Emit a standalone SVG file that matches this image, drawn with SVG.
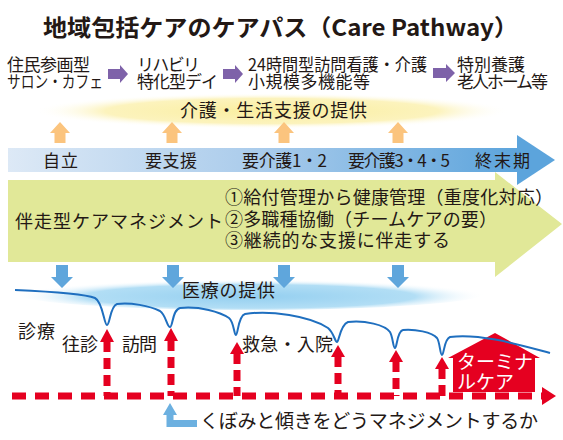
<svg xmlns="http://www.w3.org/2000/svg" width="563" height="440" viewBox="0 0 563 440">
<defs>
<style>
text{font-family:"Noto Sans CJK JP","Noto Sans",sans-serif;fill:#231815}
.t17{font-size:17px}
.t18{font-size:18px}
.t19{font-size:19px}
.title{font-size:23px;font-weight:bold}
.purple{fill:#7e62a9}
.orange{fill:#fbc47e}
.bdown{fill:#5fa6dc}
.red{fill:#e50020}
.rdash{fill:none;stroke:#e50020;stroke-width:7}
</style>
<linearGradient id="bandGrad" x1="0" y1="0" x2="1" y2="0">
<stop offset="0" stop-color="#dde9f6"/>
<stop offset="0.5" stop-color="#a9cbeb"/>
<stop offset="1" stop-color="#5ca4dc"/>
</linearGradient>
<radialGradient id="yelGrad" cx="0.5" cy="0.5" r="0.5">
<stop offset="0" stop-color="#faee9f"/>
<stop offset="0.7" stop-color="#fcf3bd"/>
<stop offset="1" stop-color="#ffffff" stop-opacity="0"/>
</radialGradient>
<radialGradient id="bluGrad" cx="0.5" cy="0.6" r="0.5">
<stop offset="0" stop-color="#94cff0"/>
<stop offset="0.7" stop-color="#b2def5"/>
<stop offset="1" stop-color="#ffffff" stop-opacity="0"/>
</radialGradient>
</defs>
<rect width="563" height="440" fill="#ffffff"/>

<g id="title">
<text class="title" x="43" y="36" textLength="475" lengthAdjust="spacingAndGlyphs">地域包括ケアのケアパス（Care Pathway）</text>
</g>

<g id="step1">
<text class="t17"><tspan x="7" y="71" textLength="83">住民参画型</tspan><tspan x="7" y="88" textLength="96" lengthAdjust="spacingAndGlyphs">サロン・カフェ</tspan></text>
</g>
<g id="step2">
<text class="t17"><tspan x="137" y="71" textLength="63">リハビリ</tspan><tspan x="137" y="88" textLength="81">特化型デイ</tspan></text>
</g>
<g id="step3">
<text class="t17"><tspan x="248" y="71" textLength="179" lengthAdjust="spacingAndGlyphs">24時間型訪問看護・介護</tspan><tspan x="248" y="88" textLength="122">小規模多機能等</tspan></text>
</g>
<g id="step4">
<text class="t17"><tspan x="457" y="71" textLength="68">特別養護</tspan><tspan x="457" y="88" textLength="91">老人ホーム等</tspan></text>
</g>

<g id="care-support">
<ellipse cx="272" cy="111" rx="238" ry="18" fill="url(#yelGrad)"/>
<text class="t18" x="180" y="117" textLength="187">介護・生活支援の提供</text>
</g>

<g id="green-arrow">
<path d="M8,180 H495 V172 L562,224 L495,277 V262 H8 Z" fill="#e1e898"/>
<text class="t18" x="15" y="228" textLength="208">伴走型ケアマネジメント</text>
<text class="t18"><tspan x="225" y="204" textLength="328">①給付管理から健康管理（重度化対応）</tspan><tspan x="225" y="226" textLength="272">②多職種協働（チームケアの要）</tspan><tspan x="225" y="247" textLength="225">③継続的な支援に伴走する</tspan></text>
</g>

<g id="stage-band">
<rect x="8" y="148" width="510" height="24" fill="url(#bandGrad)"/>
<path d="M517,135 L555,160 L517,185 Z" fill="#5ca4dc"/>
<text class="t17" x="43" y="167" textLength="35">自立</text>
<text class="t17" x="145" y="167" textLength="52">要支援</text>
<text class="t17" x="242" y="167" textLength="85">要介護1・2</text>
<text class="t17" x="348" y="167" textLength="102">要介護3・4・5</text>
<text class="t17" x="475" y="167" textLength="55">終末期</text>
</g>

<g id="medical">
<ellipse cx="250" cy="293" rx="236" ry="17" fill="url(#bluGrad)"/>
<text class="t18" x="182" y="297" textLength="93">医療の提供</text>
</g>

<g id="terminal-care">
<path d="M495,333 L540,358 H535 V392 H453 V358 H448 Z" class="red"/>
<text class="t19" style="fill:#ffffff"><tspan x="457" y="369" textLength="76">ターミナ</tspan><tspan x="457" y="389" textLength="57">ルケア</tspan></text>
</g>

<g id="labels">
<text class="t18" x="18" y="338" textLength="37">診療</text>
<text class="t18" x="62" y="351" textLength="36">往診</text>
<text class="t18" x="122" y="351" textLength="35">訪問</text>
<text class="t18" x="242" y="351" textLength="91">救急・入院</text>
<text class="t19" x="200" y="428" textLength="338">くぼみと傾きをどうマネジメントするか</text>
</g>

<g id="connectors">
<path class="purple" d="M108,69 H120 V65 L128,74 L120,83 V79 H108 Z"/>
<path class="purple" d="M223,69 H235 V65 L243,74 L235,83 V79 H223 Z"/>
<path class="purple" d="M433,68 H446 V64 L455,73 L446,82 V78 H433 Z"/>
<path class="orange" d="M60,122 L70,133 H65.5 V143 H54.5 V133 H50 Z"/>
<path class="orange" d="M172,122 L182,133 H177.5 V143 H166.5 V133 H162 Z"/>
<path class="orange" d="M284,122 L294,133 H289.5 V143 H278.5 V133 H274 Z"/>
<path class="orange" d="M398,122 L408,133 H403.5 V143 H392.5 V133 H388 Z"/>
<path class="bdown" d="M56,265 H68 V277 H73 L62,288 L51,277 H56 Z"/>
<path class="bdown" d="M167,265 H179 V277 H184 L173,288 L162,277 H167 Z"/>
<path class="bdown" d="M278,265 H290 V277 H295 L284,288 L273,277 H278 Z"/>
<path class="bdown" d="M392,265 H404 V277 H409 L398,288 L387,277 H392 Z"/>
<path class="rdash" d="M12,396 H542" stroke-dasharray="14 9"/>
<path class="red" d="M542,387 L556,396 L542,405 Z"/>
<path class="rdash" d="M107,341 V396" stroke-dasharray="11 6"/>
<path class="red" d="M107,329 L114,342 H100 Z"/>
<path class="rdash" d="M171,340 V396" stroke-dasharray="11 6"/>
<path class="red" d="M171,328 L178,341 H164 Z"/>
<path class="rdash" d="M237,353 V396" stroke-dasharray="11 6"/>
<path class="red" d="M237,342 L244,354 H230 Z"/>
<path class="rdash" d="M338,356 V396" stroke-dasharray="11 6"/>
<path class="red" d="M338,345 L345,357 H331 Z"/>
<path class="rdash" d="M396,361 V396" stroke-dasharray="11 6"/>
<path class="red" d="M396,350 L403,362 H389 Z"/>
<path class="rdash" d="M442,368 V396" stroke-dasharray="11 6"/>
<path class="red" d="M442,357 L449,369 H435 Z"/>
<path d="M15,290 C60,292 85,294 95,298 C103,302 104,325 107,325 C110,325 110,306 117,304 C130,302 150,306 160,311 C166,315 167,327 170,327 C173,327 172,310 180,308 C200,306 220,312 229,318 C234,322 234,335 236,335 C238,335 238,316 245,314 C270,310 310,316 328,328 C334,333 335,342 337,342 C339,342 340,325 348,322 C365,320 385,325 390,332 C393,337 393,348 395,348 C397,348 397,331 403,330 C415,329 432,332 437,338 C440,342 440,355 442,355 C444,355 444,339 450,337 C480,333 520,345 550,353" fill="none" stroke="#1f6fbf" stroke-width="2"/>
<path d="M170,403 L177,415 H173.5 V420 H197 V427 H166.5 V415 H163 Z" fill="#6cb0e0"/>
</g>
</svg>
